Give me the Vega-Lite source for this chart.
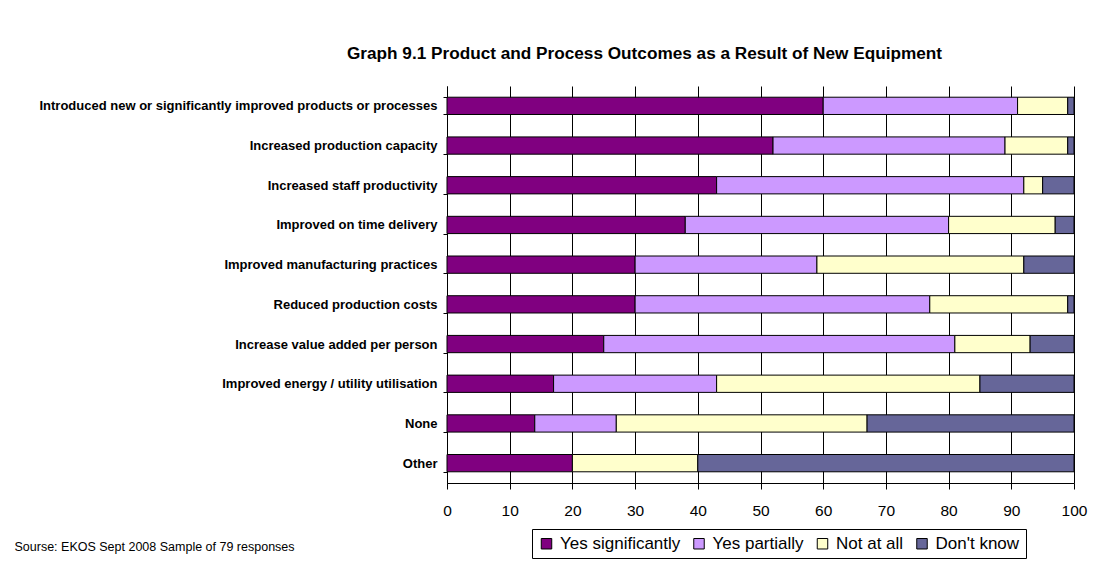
{
  "$schema": "https://vega.github.io/schema/vega-lite/v6.json",
  "width": 627,
  "height": 397,
  "autosize": {"type": "none"},
  "padding": {"left": 447, "top": 86, "right": 21, "bottom": 83},
  "background": "white",
  "title": {
    "text": "Graph 9.1 Product and Process Outcomes as a Result of New Equipment",
    "font": "Liberation Sans",
    "fontSize": 17.2,
    "fontWeight": "bold",
    "color": "#000",
    "anchor": "middle",
    "dx": -116,
    "offset": 0,
    "baseline": "bottom"
  },
  "data": {
    "values": [
      {"outcome": "Introduced new or significantly improved products or processes", "response": "Yes significantly", "pct": 60},
      {"outcome": "Introduced new or significantly improved products or processes", "response": "Yes partially", "pct": 31},
      {"outcome": "Introduced new or significantly improved products or processes", "response": "Not at all", "pct": 8},
      {"outcome": "Introduced new or significantly improved products or processes", "response": "Don't know", "pct": 1},
      {"outcome": "Increased production capacity", "response": "Yes significantly", "pct": 52},
      {"outcome": "Increased production capacity", "response": "Yes partially", "pct": 37},
      {"outcome": "Increased production capacity", "response": "Not at all", "pct": 10},
      {"outcome": "Increased production capacity", "response": "Don't know", "pct": 1},
      {"outcome": "Increased staff productivity", "response": "Yes significantly", "pct": 43},
      {"outcome": "Increased staff productivity", "response": "Yes partially", "pct": 49},
      {"outcome": "Increased staff productivity", "response": "Not at all", "pct": 3},
      {"outcome": "Increased staff productivity", "response": "Don't know", "pct": 5},
      {"outcome": "Improved on time delivery", "response": "Yes significantly", "pct": 38},
      {"outcome": "Improved on time delivery", "response": "Yes partially", "pct": 42},
      {"outcome": "Improved on time delivery", "response": "Not at all", "pct": 17},
      {"outcome": "Improved on time delivery", "response": "Don't know", "pct": 3},
      {"outcome": "Improved manufacturing practices", "response": "Yes significantly", "pct": 30},
      {"outcome": "Improved manufacturing practices", "response": "Yes partially", "pct": 29},
      {"outcome": "Improved manufacturing practices", "response": "Not at all", "pct": 33},
      {"outcome": "Improved manufacturing practices", "response": "Don't know", "pct": 8},
      {"outcome": "Reduced production costs", "response": "Yes significantly", "pct": 30},
      {"outcome": "Reduced production costs", "response": "Yes partially", "pct": 47},
      {"outcome": "Reduced production costs", "response": "Not at all", "pct": 22},
      {"outcome": "Reduced production costs", "response": "Don't know", "pct": 1},
      {"outcome": "Increase value added per person", "response": "Yes significantly", "pct": 25},
      {"outcome": "Increase value added per person", "response": "Yes partially", "pct": 56},
      {"outcome": "Increase value added per person", "response": "Not at all", "pct": 12},
      {"outcome": "Increase value added per person", "response": "Don't know", "pct": 7},
      {"outcome": "Improved energy / utility utilisation", "response": "Yes significantly", "pct": 17},
      {"outcome": "Improved energy / utility utilisation", "response": "Yes partially", "pct": 26},
      {"outcome": "Improved energy / utility utilisation", "response": "Not at all", "pct": 42},
      {"outcome": "Improved energy / utility utilisation", "response": "Don't know", "pct": 15},
      {"outcome": "None", "response": "Yes significantly", "pct": 14},
      {"outcome": "None", "response": "Yes partially", "pct": 13},
      {"outcome": "None", "response": "Not at all", "pct": 40},
      {"outcome": "None", "response": "Don't know", "pct": 33},
      {"outcome": "Other", "response": "Yes significantly", "pct": 20},
      {"outcome": "Other", "response": "Not at all", "pct": 20},
      {"outcome": "Other", "response": "Don't know", "pct": 60}
    ]
  },
  "mark": {"type": "bar", "stroke": "#000", "strokeWidth": 1},
  "encoding": {
    "y": {
      "field": "outcome",
      "type": "nominal",
      "sort": [
        "Introduced new or significantly improved products or processes",
        "Increased production capacity",
        "Increased staff productivity",
        "Improved on time delivery",
        "Improved manufacturing practices",
        "Reduced production costs",
        "Increase value added per person",
        "Improved energy / utility utilisation",
        "None",
        "Other"
      ],
      "scale": {"paddingInner": 0.565, "paddingOuter": 0.2825},
      "axis": {
        "title": null,
        "tickBand": "extent",
        "grid": false,
        "labelFont": "Liberation Sans",
        "labelFontSize": 13,
        "labelFontWeight": "bold",
        "labelColor": "#000",
        "labelPadding": 6,
        "labelLimit": 500,
        "domainColor": "#000",
        "tickColor": "#000",
        "tickSize": 4
      }
    },
    "x": {
      "field": "pct",
      "type": "quantitative",
      "stack": "zero",
      "scale": {"domain": [0, 100], "nice": false},
      "axis": {
        "values": [0, 10, 20, 30, 40, 50, 60, 70, 80, 90, 100],
        "grid": true,
        "gridColor": "#000",
        "gridOpacity": 1,
        "domainColor": "#000",
        "tickColor": "#000",
        "tickSize": 6,
        "labelFlush": false,
        "labelFont": "Liberation Sans",
        "labelFontSize": 15.5,
        "labelColor": "#000",
        "labelPadding": 14,
        "title": "Sourse: EKOS Sept 2008  Sample of 79 responses",
        "titleFont": "Liberation Sans",
        "titleFontSize": 12.5,
        "titleFontWeight": "normal",
        "titleColor": "#000",
        "titleX": -433,
        "titleY": 63,
        "titleAlign": "left",
        "titleBaseline": "middle"
      }
    },
    "order": {"field": "response", "sort": "descending"},
    "color": {
      "field": "response",
      "type": "nominal",
      "sort": ["Yes significantly", "Yes partially", "Not at all", "Don't know"],
      "scale": {
        "domain": ["Yes significantly", "Yes partially", "Not at all", "Don't know"],
        "range": ["#800080", "#CC99FF", "#FFFFCC", "#666699"]
      },
      "legend": {
        "title": null,
        "orient": "none",
        "legendX": 85,
        "legendY": 443,
        "direction": "horizontal",
        "strokeColor": "#000",
        "fillColor": "#fff",
        "padding": 6,
        "symbolType": "square",
        "symbolSize": 110,
        "symbolStrokeColor": "#000",
        "symbolStrokeWidth": 1,
        "symbolOpacity": 1,
        "labelFont": "Liberation Sans",
        "labelFontSize": 17,
        "labelColor": "#000",
        "labelOffset": 5,
        "labelLimit": 300,
        "columnPadding": 9.5
      }
    }
  },
  "config": {"view": {"stroke": null}, "font": "Liberation Sans"}
}
